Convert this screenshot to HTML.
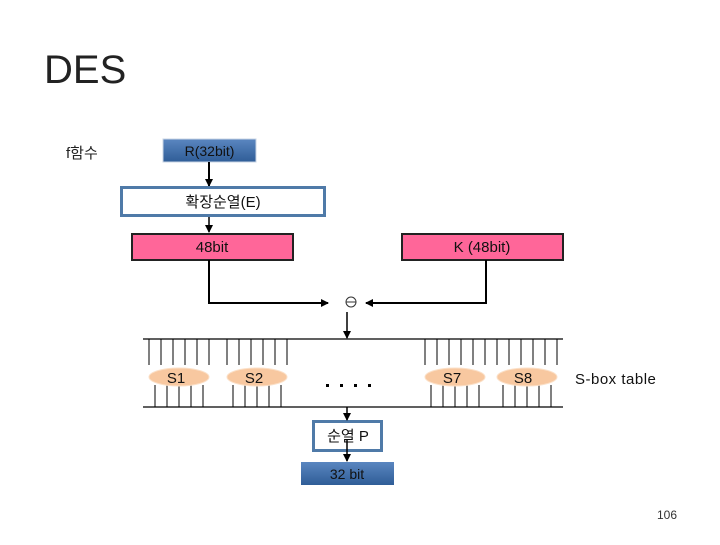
<!DOCTYPE html>
<html><head><meta charset="utf-8"><style>
body{margin:0;background:#fff;}
svg text{font-family:"Liberation Sans","Noto Sans CJK KR",sans-serif;}
</style></head><body>
<svg width="720" height="540" xmlns="http://www.w3.org/2000/svg">
<defs>
<linearGradient id="bg" x1="0" y1="0" x2="0" y2="1"><stop offset="0" stop-color="#5a86c0"/><stop offset="1" stop-color="#2f5d97"/></linearGradient>
<marker id="a" markerWidth="8" markerHeight="8" refX="7" refY="4" orient="auto" markerUnits="userSpaceOnUse"><path d="M0,0 L8,4 L0,8 z" fill="#000"/></marker>
</defs>
<text x="44" y="83" font-size="40" fill="#222">DES</text>
<text x="66" y="158" font-size="15" fill="#222">f함수</text>
<rect x="163" y="139" width="93" height="23" fill="url(#bg)" stroke="#c8d4e4" stroke-width="1"/>
<text x="209.5" y="156" font-size="14" fill="#111" text-anchor="middle">R(32bit)</text>
<line x1="209" y1="162" x2="209" y2="186" stroke="#000" stroke-width="2" marker-end="url(#a)"/>
<rect x="121.5" y="187.5" width="203" height="28" fill="#fff" stroke="#4f7aa8" stroke-width="3"/>
<text x="223" y="207" font-size="15" fill="#111" text-anchor="middle">확장순열(E)</text>
<line x1="209" y1="217" x2="209" y2="232" stroke="#000" stroke-width="1.5" marker-end="url(#a)"/>
<rect x="132" y="234" width="161" height="26" fill="#ff6699" stroke="#222" stroke-width="2"/>
<text x="212" y="252" font-size="15" fill="#111" text-anchor="middle">48bit</text>
<rect x="402" y="234" width="161" height="26" fill="#ff6699" stroke="#222" stroke-width="2"/>
<text x="482" y="252" font-size="15" fill="#111" text-anchor="middle">K (48bit)</text>
<polyline points="209,260 209,303 328,303" fill="none" stroke="#000" stroke-width="2" marker-end="url(#a)"/>
<polyline points="486,260 486,303 366,303" fill="none" stroke="#000" stroke-width="2" marker-end="url(#a)"/>
<circle cx="351" cy="302" r="5" fill="none" stroke="#333" stroke-width="1"/>
<line x1="346" y1="302" x2="356" y2="302" stroke="#333" stroke-width="1"/>
<line x1="347" y1="312" x2="347" y2="338" stroke="#000" stroke-width="1.5" marker-end="url(#a)"/>
<line x1="143" y1="339" x2="563" y2="339" stroke="#000" stroke-width="1.2"/>
<line x1="143" y1="407" x2="563" y2="407" stroke="#000" stroke-width="1.2"/>
<g stroke="#000" stroke-width="1">
<path d="M149,339V365M161,339V365M173,339V365M185,339V365M197,339V365M209,339V365
M155,385V407M167,385V407M179,385V407M191,385V407M203,385V407
M227,339V365M239,339V365M251,339V365M263,339V365M275,339V365M287,339V365
M233,385V407M245,385V407M257,385V407M269,385V407M281,385V407
M425,339V365M437,339V365M449,339V365M461,339V365M473,339V365M485,339V365
M431,385V407M443,385V407M455,385V407M467,385V407M479,385V407
M497,339V365M509,339V365M521,339V365M533,339V365M545,339V365M557,339V365
M503,385V407M515,385V407M527,385V407M539,385V407M551,385V407"/>
</g>
<g fill="#f8c8a0" stroke="#fbe0c8" stroke-width="1">
<ellipse cx="179" cy="377" rx="30" ry="9"/>
<ellipse cx="257" cy="377" rx="30" ry="9"/>
<ellipse cx="455" cy="377" rx="30" ry="9"/>
<ellipse cx="527" cy="377" rx="30" ry="9"/>
</g>
<g font-size="15" fill="#111" text-anchor="middle">
<text x="176" y="383">S1</text><text x="254" y="383">S2</text>
<text x="452" y="383">S7</text><text x="523" y="383">S8</text>
</g>
<g fill="#000"><rect x="326" y="384" width="3" height="3"/><rect x="340" y="384" width="3" height="3"/><rect x="354" y="384" width="3" height="3"/><rect x="368" y="384" width="3" height="3"/></g>
<text x="575" y="384" font-size="15" fill="#111" letter-spacing="0.5">S-box table</text>
<rect x="313.5" y="421.5" width="68" height="29" fill="#fff" stroke="#4f7aa8" stroke-width="3"/>
<line x1="347" y1="407" x2="347" y2="420" stroke="#000" stroke-width="1.5" marker-end="url(#a)"/>
<text x="348" y="441" font-size="15" fill="#111" text-anchor="middle">순열 P</text>
<line x1="347" y1="440" x2="347" y2="461" stroke="#000" stroke-width="1.5" marker-end="url(#a)"/>
<rect x="301" y="462" width="93" height="23" fill="url(#bg)"/>
<text x="347" y="479" font-size="14" fill="#111" text-anchor="middle">32 bit</text>
<text x="657" y="519" font-size="12" fill="#333">106</text>
</svg>
</body></html>
